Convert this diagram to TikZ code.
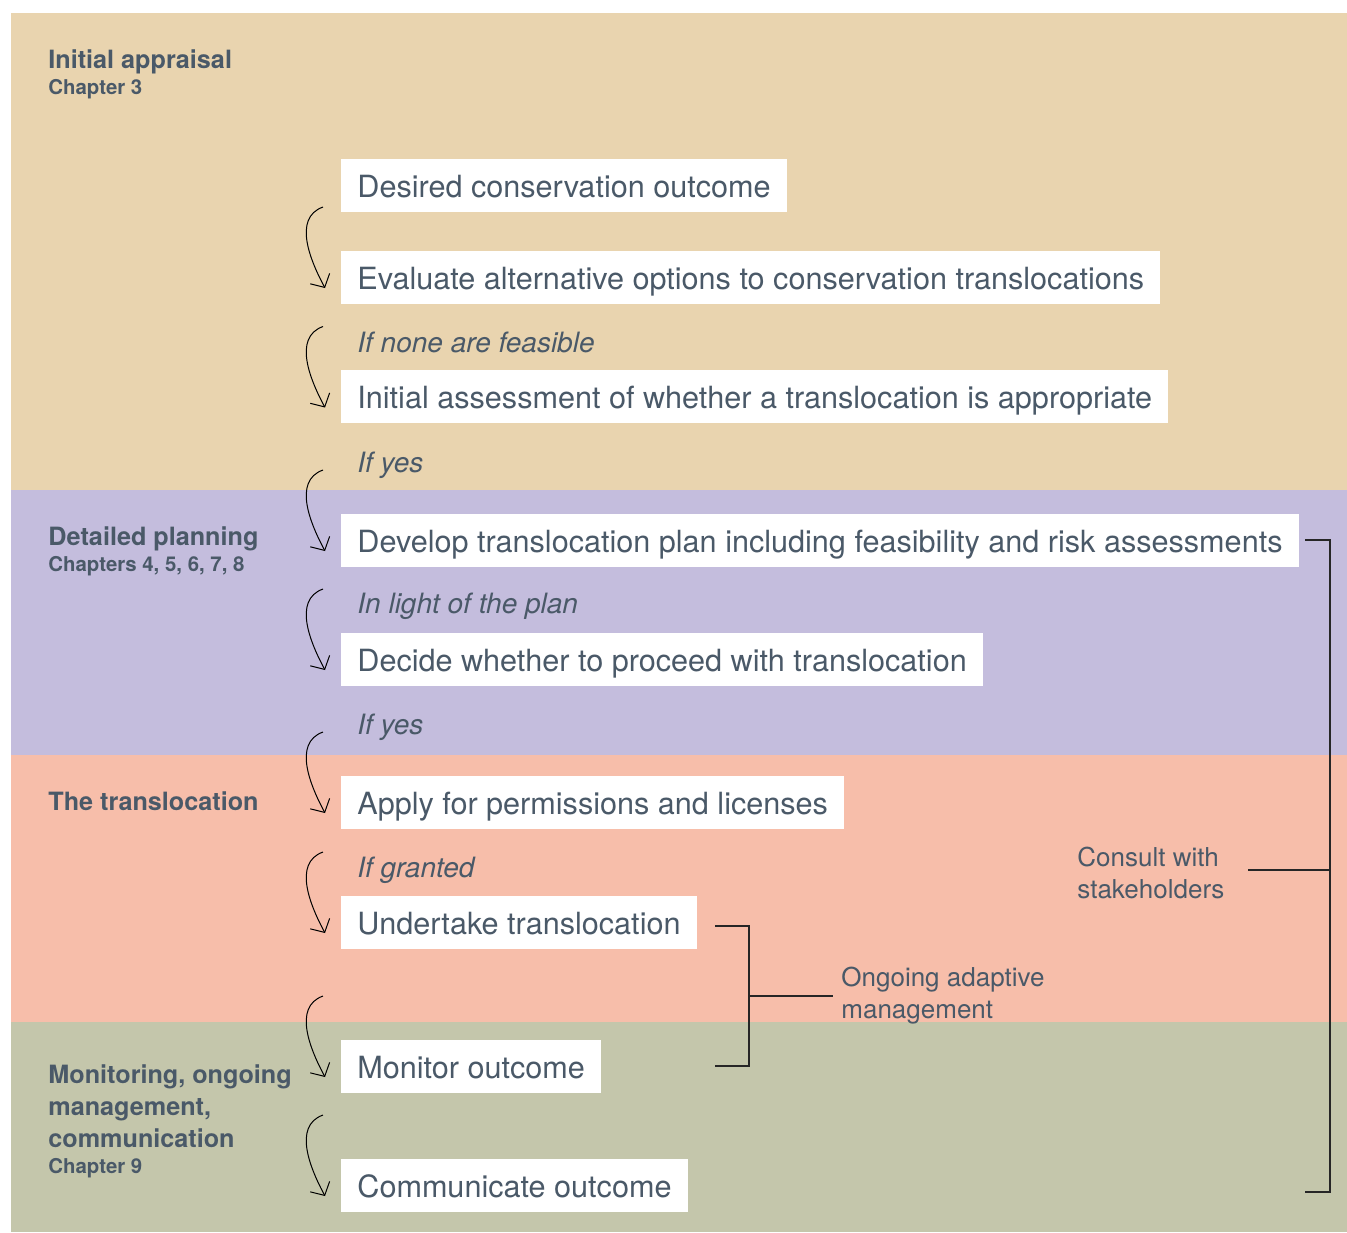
\documentclass[tikz,border=0pt]{standalone}
\usepackage{fontspec}
\setmainfont{TeX Gyre Heros}
\usetikzlibrary{arrows.meta}

\definecolor{appraisal}{HTML}{E9D4AF}
\definecolor{planning}{HTML}{C4BDDD}
\definecolor{transloc}{HTML}{F7BEAA}
\definecolor{monitor}{HTML}{C4C6AB}
\definecolor{ink}{HTML}{4A5968}

\tikzset{
  stepbox/.style={anchor=west, fill=white, text=ink, inner xsep=8pt, inner ysep=0pt,
    minimum height=26.5pt, text height=12.3pt, text depth=0pt,
    font=\fontsize{15.3}{18}\selectfont},
  stage/.style={anchor=base west, inner sep=0pt, text=ink, align=left,
    font=\fontsize{12.6}{16}\selectfont\bfseries},
  chapter/.style={anchor=base west, inner sep=0pt, text=ink,
    font=\fontsize{10.2}{12}\selectfont\bfseries},
  cond/.style={anchor=base west, inner sep=0pt, text=ink,
    font=\fontsize{14}{16}\selectfont\itshape},
  note/.style={anchor=west, inner xsep=4pt, inner ysep=0pt, text=ink, align=left,
    font=\fontsize{13}{16}\selectfont},
  flow/.style={-{Straight Barb[length=5pt,width=11pt]}, line width=0.5pt, black},
  bracket/.style={line width=0.6pt, black!85}
}

\begin{document}
\begin{tikzpicture}[x=0.5pt,y=-0.5pt]
\useasboundingbox (0,0) rectangle (1347,1232);
% stage bands
\fill[appraisal] (11,13) rectangle (1347,490);
\fill[planning] (11,490) rectangle (1347,755);
\fill[transloc] (11,755) rectangle (1347,1022);
\fill[monitor] (11,1022) rectangle (1347,1232);

% stage titles
\node[stage] (s1) at (48,68) {Initial appraisal};
\node[chapter] (c1) at (48,94) {Chapter 3};
\node[stage] (s2) at (48,545) {Detailed planning};
\node[chapter] (c2) at (48,571) {Chapters 4, 5, 6, 7, 8};
\node[stage] (s3) at (48,810) {The translocation};
\node[stage] (s4) at (48,1147) {Monitoring, ongoing\\management,\\communication};
\node[chapter] (c4) at (48,1173) {Chapter 9};

% steps
\node[stepbox] (b1) at (341,185) {Desired conservation outcome};
\node[stepbox] (b2) at (341,277) {Evaluate alternative options to conservation translocations};
\node[stepbox] (b3) at (341,396.5) {Initial assessment of whether a translocation is appropriate};
\node[stepbox] (b4) at (341,540) {Develop translocation plan including feasibility and risk assessments};
\node[stepbox] (b5) at (341,659) {Decide whether to proceed with translocation};
\node[stepbox] (b6) at (341,802) {Apply for permissions and licenses};
\node[stepbox] (b7) at (341,922) {Undertake translocation};
\node[stepbox] (b8) at (341,1066) {Monitor outcome};
\node[stepbox] (b9) at (341,1185) {Communicate outcome};

% conditions
\node[cond] (if1) at (357,352) {If none are feasible};
\node[cond] (if2) at (357,472) {If yes};
\node[cond] (if3) at (357,613) {In light of the plan};
\node[cond] (if4) at (357,734) {If yes};
\node[cond] (if5) at (357,877) {If granted};

% curved arrows
\draw[flow] ([shift={(-18,-70)}]b2.west) .. controls +(-31,11) and +(-14,-26) .. ([shift={(-16,11)}]b2.west);
\draw[flow] ([shift={(-18,-70)}]b3.west) .. controls +(-31,11) and +(-14,-26) .. ([shift={(-16,11)}]b3.west);
\draw[flow] ([shift={(-18,-70)}]b4.west) .. controls +(-31,11) and +(-14,-26) .. ([shift={(-16,11)}]b4.west);
\draw[flow] ([shift={(-18,-70)}]b5.west) .. controls +(-31,11) and +(-14,-26) .. ([shift={(-16,11)}]b5.west);
\draw[flow] ([shift={(-18,-70)}]b6.west) .. controls +(-31,11) and +(-14,-26) .. ([shift={(-16,11)}]b6.west);
\draw[flow] ([shift={(-18,-70)}]b7.west) .. controls +(-31,11) and +(-14,-26) .. ([shift={(-16,11)}]b7.west);
\draw[flow] ([shift={(-18,-70)}]b8.west) .. controls +(-31,11) and +(-14,-26) .. ([shift={(-16,11)}]b8.west);
\draw[flow] ([shift={(-18,-70)}]b9.west) .. controls +(-31,11) and +(-14,-26) .. ([shift={(-16,11)}]b9.west);

% ongoing adaptive management
\node[note] (adapt) at (833,996) {Ongoing adaptive\\management};
\draw[bracket] (715,926) -- (749,926) -- (749,1066) -- (715,1066);
\draw[bracket] (749,996) -- (adapt.west);

% consult with stakeholders
\node[note] (consult) at (1069,873) {Consult with\\stakeholders};
\coordinate (cs) at (1248,870);
\draw[bracket] (1305,540) -- (1330,540) -- (1330,1192) -- (1305,1192);
\draw[bracket] (1330,870) -- (cs);
\end{tikzpicture}
\end{document}
